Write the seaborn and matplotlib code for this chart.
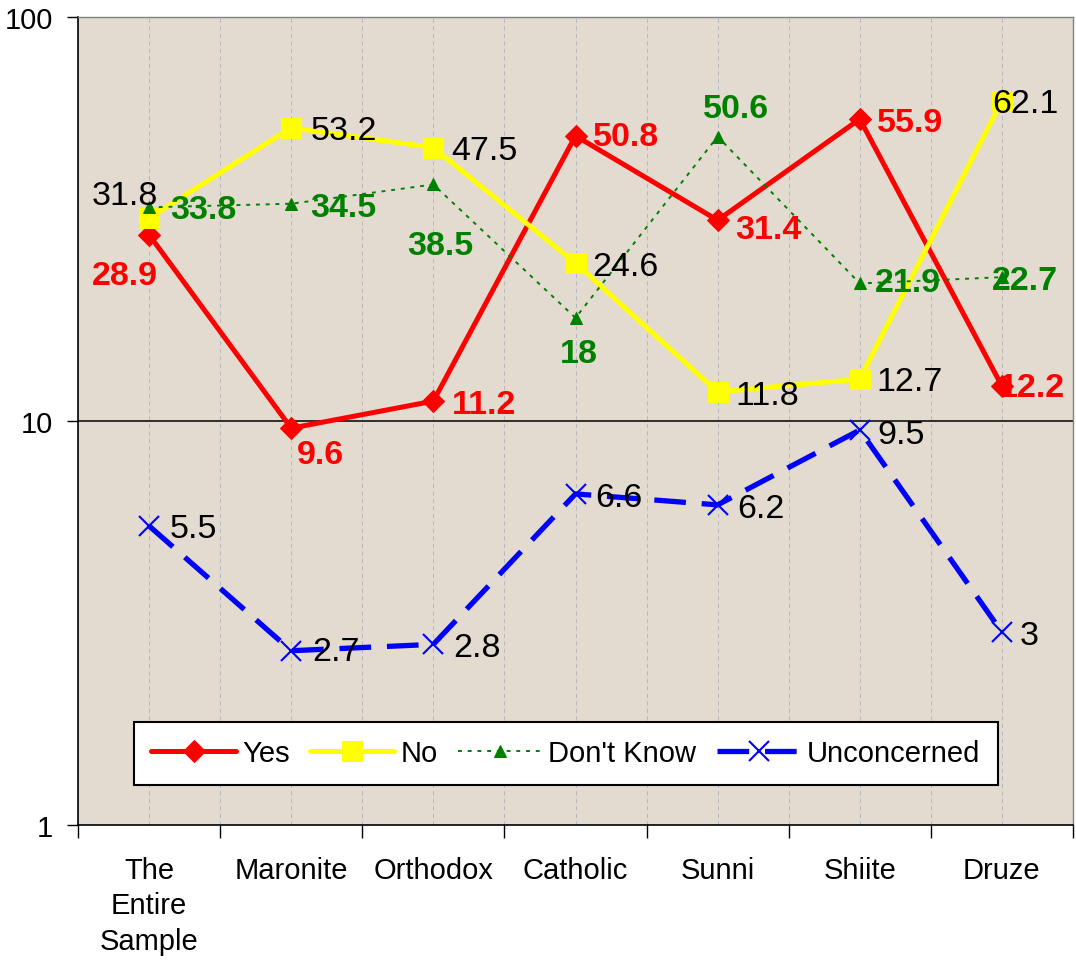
import numpy as np
import pandas as pd
import seaborn as sns
import matplotlib.pyplot as plt
from matplotlib import font_manager
from matplotlib.ticker import NullLocator, NullFormatter

# data
categories = ['The\nEntire\nSample', 'Maronite', 'Orthodox', 'Catholic', 'Sunni', 'Shiite', 'Druze']
series_names = ['Yes', 'No', "Don't Know", 'Unconcerned']
yes = [28.9, 9.6, 11.2, 50.8, 31.4, 55.9, 12.2]
no = [31.8, 53.2, 47.5, 24.6, 11.8, 12.7, 62.1]
dont_know = [33.8, 34.5, 38.5, 18, 50.6, 21.9, 22.7]
unconcerned = [5.5, 2.7, 2.8, 6.6, 6.2, 9.5, 3]
y_ticks = [1, 10, 100]

df = pd.DataFrame({
    'pos': np.tile(np.arange(len(categories)), 4),
    'value': yes + no + dont_know + unconcerned,
    'series': np.repeat(series_names, len(categories)),
})

sns.set_theme(style='white')
plt.rcParams['font.family'] = ['Liberation Sans', 'DejaVu Sans']
plt.rcParams['text.color'] = 'black'
plt.rcParams['xtick.color'] = 'black'
plt.rcParams['ytick.color'] = 'black'

installed = {f.name for f in font_manager.fontManager.ttflist}
narrow = 'Liberation Sans Narrow' if 'Liberation Sans Narrow' in installed else 'Liberation Sans'
narrow_size = 23 if narrow != 'Liberation Sans' else 21

styles = {
    'Yes': dict(color='#FF0000', marker='D', markersize=11, linewidth=3.6, linestyle='-'),
    'No': dict(color='#FFFF00', marker='s', markersize=15, linewidth=3.6, linestyle='-'),
    "Don't Know": dict(color='#008000', marker='^', markersize=8, linewidth=1.4, linestyle=(0, (2, 3))),
    'Unconcerned': dict(color='#0000FF', marker='x', markersize=14, linewidth=3.8,
                        linestyle=(0, (6, 3)), markeredgewidth=1.5),
}
label_style = {
    'Yes': dict(color='#FF0000', fontweight='bold'),
    'No': dict(color='black', fontweight='normal'),
    "Don't Know": dict(color='#008000', fontweight='bold'),
    'Unconcerned': dict(color='black', fontweight='normal'),
}
# label offsets in pixels: (left edge from point, visual centre below point)
label_offsets = {
    'Yes': [(-57, 37), (6, 23), (19, 0), (17, -3), (18, 6), (17, 0), (-3, -2)],
    'No': [(-57, -26), (19, -1), (18, -1), (17, 0), (18, 0), (17, -1), (-10, -1)],
    "Don't Know": [(21, -1), (19, 0), (-26, 58), (-16, 32), (-15, -32), (15, -4), (-10, 0)],
    'Unconcerned': [(21, -1), (21, -3), (20, 0), (20, 0), (20, 0), (18, 1), (18, 0)],
}

fig = plt.figure(figsize=(10.76, 9.62), dpi=100)
ax = fig.add_axes([78 / 1076, 1 - 826 / 962, (1073 - 78) / 1076, (826 - 18) / 962])
ax.set_facecolor('#E3DBD0')

handles = []
for name in series_names:
    st = styles[name]
    sub = df[df['series'] == name]
    sns.lineplot(data=sub, x='pos', y='value', ax=ax, sort=False, errorbar=None, legend=False,
                 label=name, markeredgecolor=st['color'], markerfacecolor=st['color'], **st)
    handles.append(ax.lines[-1])
    for (x, v), (dx, dy) in zip(zip(sub['pos'], sub['value']), label_offsets[name]):
        ax.annotate(f'{v:g}', (x, v), xytext=(dx * 0.72, -(dy + 12) * 0.72),
                    textcoords='offset points', ha='left', va='baseline',
                    fontsize=24.5, zorder=10, **label_style[name])

ax.set_yscale('log')
ax.set_ylim(1, 100)
ax.set_xlim(-0.5, len(categories) - 0.5)
ax.set_yticks(y_ticks)
ax.set_yticklabels([str(t) for t in y_ticks], fontsize=21)
ax.yaxis.set_minor_locator(NullLocator())
ax.tick_params(axis='y', which='major', direction='out', length=8, width=1, color='black',
               labelcolor='black', pad=10, left=True)

ax.set_xticks(np.arange(-0.5, len(categories)))
ax.xaxis.set_major_formatter(NullFormatter())
ax.set_xticks(np.arange(len(categories)), minor=True)
ax.set_xticklabels(categories, minor=True, fontsize=narrow_size, family=narrow, linespacing=1.36)
ax.tick_params(axis='x', which='major', direction='out', length=9, width=1, color='black', bottom=True)
ax.tick_params(axis='x', which='minor', length=0, pad=22, labelcolor='black')

ax.set_xlabel('')
ax.set_ylabel('')
ax.grid(False)
ax.xaxis.grid(True, which='both', color='#ABB0BA', linestyle=(0, (5, 4)), linewidth=0.6, zorder=0)
ax.set_axisbelow(True)
ax.axhline(10, color='black', linewidth=1.1, zorder=1)

for side in ['left', 'bottom']:
    ax.spines[side].set_color('black')
    ax.spines[side].set_linewidth(1.2)
for side in ['top', 'right']:
    ax.spines[side].set_color('#808080')
    ax.spines[side].set_linewidth(1.0)

leg = fig.legend(handles=handles, labels=series_names, loc='center', ncol=4,
                 bbox_to_anchor=(566 / 1076, 1 - 754 / 962), frameon=True, fancybox=False,
                 edgecolor='black', facecolor='white', framealpha=1, numpoints=1,
                 prop={'family': narrow, 'size': narrow_size},
                 handlelength=2.9, handletextpad=0.2, columnspacing=0.7, borderpad=0.6)
leg.get_frame().set_linewidth(1.5)
for t in leg.get_texts():
    t.set_color('black')

fig.savefig('out.png', dpi=100, facecolor='white')
